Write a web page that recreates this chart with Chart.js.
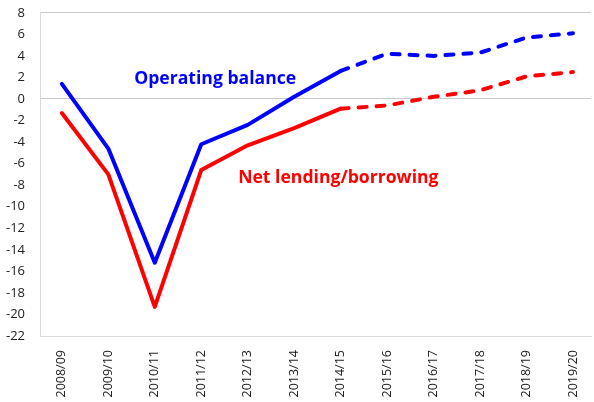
<!DOCTYPE html>
<html>
<head>
<meta charset="utf-8">
<script src="https://cdn.jsdelivr.net/npm/chart.js@4"></script>
<style>
    html, body { margin: 0; padding: 0; background: #fff; overflow: hidden; }
    #chartcanvas { display: block; margin-top: -10px; }
</style>
</head>
<body>
<canvas id="chartcanvas" width="594" height="412"></canvas>
<script>
var years = ['2008/09', '2009/10', '2010/11', '2011/12', '2012/13', '2013/14',
             '2014/15', '2015/16', '2016/17', '2017/18', '2018/19', '2019/20'];
var operatingBalance = [1.4, -4.6, -15.2, -4.2, -2.4, 0.2, 2.6, 4.2, 4.0, 4.3, 5.7, 6.1];
var netLending = [-1.3, -7.0, -19.3, -6.6, -4.3, -2.7, -0.9, -0.6, 0.2, 0.8, 2.1, 2.5];
var yTicks = [8, 6, 4, 2, 0, -2, -4, -6, -8, -10, -12, -14, -16, -18, -20, -22];
var forecastFrom = 6; // dashed from 2014/15 onwards

var seriesLabels = [
    { text: 'Operating balance', x: 3.3, y: 1.9, color: '#0000ff' },
    { text: 'Net lending/borrowing', x: 5.95, y: -7.3, color: '#ff0000' },
];

function toPoints(arr) {
    return arr.map(function(v, i) { return { x: i, y: v }; });
}

const labelPlugin = {
    id: 'seriesLabels',
    afterDatasetsDraw: (chart) => {
        const { ctx, scales } = chart;
        ctx.save();
        ctx.font = 'bold 17.6px "Open Sans", sans-serif';
        ctx.textAlign = 'center';
        ctx.textBaseline = 'middle';
        seriesLabels.forEach(function(l) {
            ctx.fillStyle = l.color;
            ctx.fillText(l.text, scales.x.getPixelForValue(l.x), scales.y.getPixelForValue(l.y));
        });
        ctx.restore();
    }
};

function dashed(ctx) {
    return ctx.p0DataIndex >= forecastFrom ? [8, 10] : undefined;
}

new Chart(document.getElementById('chartcanvas'), {
    type: 'line',
    data: {
        datasets: [
            {
                label: 'Operating balance',
                data: toPoints(operatingBalance),
                borderColor: '#0000ff',
                backgroundColor: '#0000ff',
                segment: { borderDash: dashed },
            }, {
                label: 'Net lending/borrowing',
                data: toPoints(netLending),
                borderColor: '#ff0000',
                backgroundColor: '#ff0000',
                segment: { borderDash: dashed },
            }
        ],
    },
    options: {
        responsive: false,
        animation: false,
        layout: { padding: 0 },
        elements: {
            point: { radius: 0 },
            line: { borderWidth: 4, tension: 0, borderCapStyle: 'round', borderJoinStyle: 'round' },
        },
        plugins: {
            legend: { display: false },
            tooltip: { enabled: false },
        },
        scales: {
            x: {
                type: 'linear',
                min: -0.47,
                max: 11.39,
                afterBuildTicks: (axis) => {
                    axis.ticks = years.map(function(y, i) { return { value: i }; });
                },
                afterFit: (axis) => { axis.height = 66; },
                ticks: {
                    color: '#222',
                    font: { family: '"Open Sans", sans-serif', size: 12.5 },
                    maxRotation: 90,
                    minRotation: 90,
                    autoSkip: false,
                    padding: 6,
                    callback: function(v) { return years[v]; },
                },
                grid: { display: false },
                border: { display: true, color: '#d9d9d9', width: 1 },
            },
            y: {
                type: 'linear',
                min: -22,
                max: 8,
                afterBuildTicks: (axis) => {
                    axis.ticks = yTicks.map(function(v) { return { value: v }; });
                },
                afterFit: (axis) => { axis.width = 40; },
                ticks: {
                    color: '#222',
                    font: { family: '"Open Sans", sans-serif', size: 13 },
                    padding: 15,
                },
                grid: {
                    drawTicks: false,
                    color: function(c) {
                        return (c.tick && (c.tick.value === 0 || c.tick.value === 8)) ? '#c8c8c8' : 'rgba(0,0,0,0)';
                    },
                },
                border: { display: true, color: '#d9d9d9', width: 1 },
            },
        },
    },
    plugins: [labelPlugin],
});
</script>
</body>
</html>
